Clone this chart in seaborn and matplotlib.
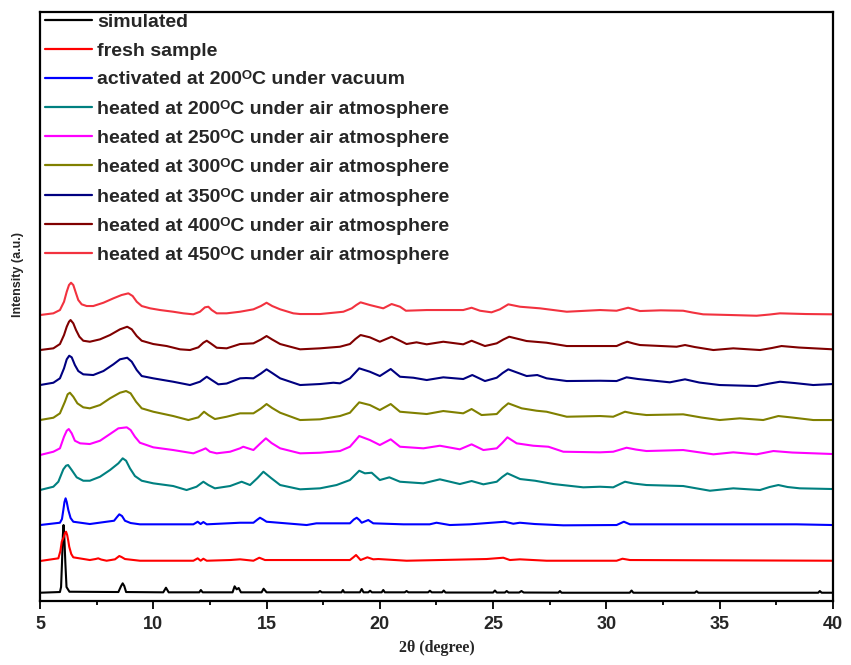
import matplotlib
matplotlib.use("Agg")
import matplotlib.pyplot as plt
from matplotlib.ticker import MultipleLocator
import pandas as pd
import seaborn as sns

# Sample names (legend order) and line colours
samples = [
    "simulated",
    "fresh sample",
    "activated at 200ᴼC under vacuum",
    "heated at 200ᴼC under air atmosphere",
    "heated at 250ᴼC under air atmosphere",
    "heated at 300ᴼC under air atmosphere",
    "heated at 350ᴼC under air atmosphere",
    "heated at 400ᴼC under air atmosphere",
    "heated at 450ᴼC under air atmosphere",
]
colors = ["#000000", "#FF0000", "#0000FF", "#008080", "#FF00FF",
          "#808000", "#000080", "#800000", "#F2323F"]

# Stacked PXRD patterns: (2theta in degrees, intensity in a.u. incl. stacking offset)
simulated = [
    (5.0, 8.3), (5.88, 9.0), (5.93, 14), (5.97, 37.7), (6.01, 66), (6.04, 76),
    (6.07, 66), (6.12, 37.7), (6.17, 14), (6.3, 9.3),
    (8.46, 9.0), (8.58, 15), (8.65, 17.7), (8.72, 15), (8.8, 9.0),
    (10.44, 8.7), (10.56, 13.3), (10.68, 8.7),
    (12.03, 8.7), (12.1, 11), (12.18, 8.7),
    (13.5, 8.7), (13.59, 14.7), (13.68, 11.7), (13.77, 13), (13.87, 8.7),
    (14.78, 8.7), (14.87, 12.3), (15.0, 8.7),
    (17.28, 8.7), (17.36, 10), (17.44, 8.7),
    (18.31, 8.7), (18.37, 11), (18.43, 8.7),
    (19.12, 8.7), (19.2, 12), (19.28, 8.7),
    (19.49, 8.7), (19.57, 10.3), (19.65, 8.7),
    (20.08, 8.7), (20.15, 11), (20.22, 8.7),
    (21.1, 8.7), (21.18, 10), (21.26, 8.7),
    (22.13, 8.7), (22.21, 10.3), (22.29, 8.7),
    (22.75, 8.7), (22.82, 10.5), (22.9, 8.5),
    (25.0, 8.5), (25.08, 10.5), (25.16, 8.5),
    (25.52, 8.5), (25.6, 10), (25.68, 8.5),
    (26.15, 8.5), (26.25, 10), (26.35, 8.5),
    (27.88, 8.4), (27.95, 10), (28.02, 8.3),
    (31.03, 8.3), (31.11, 10.5), (31.19, 8.3),
    (33.9, 8.3), (33.98, 9.8), (34.06, 8.3),
    (39.35, 8.3), (39.42, 10), (39.5, 8.3), (40.0, 8.3),
]
fresh = [
    (5.0, 40), (5.81, 42.7), (5.9, 50), (5.96, 59.3), (6.05, 64), (6.1, 68),
    (6.15, 69.3), (6.2, 66), (6.25, 60), (6.29, 54.3), (6.38, 47), (6.47, 43.7),
    (7.2, 41), (7.45, 42), (7.57, 42.7), (7.7, 41.5), (7.94, 40.3), (8.31, 41.7),
    (8.5, 45), (8.6, 44), (8.75, 42), (9.41, 40.3), (11.77, 40.3), (11.96, 42.7),
    (12.09, 40.3), (12.21, 42.3), (12.36, 40.3), (13.39, 41), (13.83, 41.7),
    (14.42, 40.3), (14.68, 43.3), (14.93, 41), (18.68, 41), (18.82, 43.5),
    (18.95, 46), (19.15, 41), (19.45, 43.7), (19.71, 41.7), (19.93, 42),
    (21.18, 40.3), (24.71, 42), (25.45, 43.3), (25.74, 41), (26.18, 41.7),
    (27.36, 40.3), (30.45, 40.3), (30.71, 42.3), (31.04, 41), (40.0, 40.3),
]
activated = [
    (5.0, 76), (5.88, 78.3), (5.97, 82), (6.03, 91), (6.08, 99), (6.13, 102.7),
    (6.18, 99), (6.25, 91), (6.35, 83), (6.47, 79.3), (7.2, 77), (7.94, 79.3),
    (8.27, 80.3), (8.4, 84), (8.5, 86.7), (8.62, 85), (8.75, 80.3), (9.0, 78),
    (9.41, 76.7), (11.77, 76.7), (11.96, 79.3), (12.09, 77), (12.21, 79),
    (12.36, 76.7), (13.83, 78.3), (14.42, 78.3), (14.6, 81.5), (14.71, 83.3),
    (14.85, 81.5), (15.0, 79.3), (16.77, 76), (17.2, 77.7), (18.68, 77.7),
    (18.85, 81.5), (18.98, 83.3), (19.1, 81), (19.2, 78.3), (19.49, 81),
    (19.71, 77.7), (21.04, 76.7), (22.2, 76.7), (22.5, 78.3), (23.09, 76),
    (23.98, 76.7), (25.52, 79.3), (25.89, 77.3), (26.18, 78.3), (26.84, 77),
    (28.1, 75.7), (30.45, 76), (30.77, 79.3), (31.04, 76.7), (33.98, 76.7),
    (38.39, 76.7), (40.0, 76),
]
heated_200 = [
    (5.0, 111), (5.59, 114.3), (5.81, 119.3), (6.03, 131.7), (6.15, 135.3),
    (6.24, 136), (6.4, 131), (6.62, 123.7), (6.91, 120.3), (7.2, 120.3),
    (7.65, 124.3), (8.09, 131), (8.46, 137.7), (8.65, 142.7), (8.8, 140.3),
    (8.97, 132.7), (9.19, 125), (9.49, 120.3), (10.0, 117.7), (10.88, 115),
    (11.47, 111), (11.91, 114.3), (12.21, 119.3), (12.43, 116), (12.72, 112.7),
    (13.39, 115), (13.9, 119.3), (14.27, 116), (14.6, 123), (14.86, 129.3),
    (15.2, 123), (15.6, 116), (16.48, 111.7), (17.36, 112.7), (18.09, 116),
    (18.68, 121), (18.9, 126), (19.09, 130.3), (19.34, 127.7), (19.64, 128.3),
    (20.0, 121), (20.42, 123.7), (20.89, 119.3), (21.92, 117.7), (22.65, 121.7),
    (23.53, 117), (24.05, 120), (24.57, 116.7), (25.16, 119.3), (25.4, 124),
    (25.63, 127.7), (26.19, 122), (26.85, 120.3), (27.66, 117), (28.98, 113.7),
    (29.72, 114.3), (30.3, 113.7), (30.6, 117), (30.82, 119.3), (31.2, 117.5),
    (31.77, 116), (33.39, 115), (34.57, 110.3), (35.6, 112.7), (36.78, 111),
    (37.2, 114), (37.59, 116), (38.0, 114), (38.54, 112.7), (40.0, 112),
]
heated_250 = [
    (5.0, 146), (5.59, 149.3), (5.88, 152.7), (6.06, 164.3), (6.18, 170.3),
    (6.27, 172), (6.4, 167.7), (6.54, 160.3), (6.77, 157.7), (7.2, 157),
    (7.65, 160.3), (8.09, 167), (8.46, 172.7), (8.83, 173.7), (9.0, 171),
    (9.19, 164.3), (9.41, 158.3), (10.0, 153.7), (10.88, 151), (11.77, 147.7),
    (12.14, 151), (12.31, 152.7), (12.5, 149.3), (12.8, 147.7), (13.39, 149.3),
    (13.83, 152.7), (13.97, 154.3), (14.42, 151), (14.72, 157.5), (14.97, 162.7),
    (15.22, 158), (15.6, 152.7), (16.48, 147.7), (17.36, 148.3), (18.24, 150),
    (18.68, 154.3), (18.9, 160), (19.09, 165), (19.56, 161), (20.0, 156),
    (20.48, 161.7), (20.89, 154.3), (21.92, 152.7), (22.65, 155.3), (23.53, 151.7),
    (24.05, 156.7), (24.57, 151), (25.16, 152.7), (25.4, 158), (25.63, 163.7),
    (26.04, 157.7), (26.77, 155.3), (27.44, 154.3), (28.1, 149.3), (29.72, 148.7),
    (30.3, 149.3), (30.89, 153.3), (31.3, 151.5), (31.77, 150), (33.39, 151),
    (34.72, 146.7), (35.6, 148.7), (36.63, 146.7), (37.37, 150), (38.2, 148.5),
    (40.0, 147),
]
heated_300 = [
    (5.0, 181), (5.59, 183.3), (5.88, 187.7), (6.1, 199.3), (6.22, 206.7),
    (6.32, 208.3), (6.47, 204.3), (6.65, 197.7), (6.91, 193.7), (7.2, 192.7),
    (7.65, 196), (8.09, 202.7), (8.53, 208.3), (8.8, 210), (9.0, 207.7),
    (9.24, 199.3), (9.49, 192.7), (10.0, 189.3), (10.88, 185), (11.55, 181),
    (11.99, 183.7), (12.24, 189.3), (12.43, 186), (12.72, 182), (13.24, 184.3),
    (13.83, 187.7), (14.42, 187.7), (14.75, 192.5), (15.0, 197), (15.25, 193),
    (15.6, 188.3), (16.48, 181), (17.36, 181.7), (18.24, 185), (18.68, 188.3),
    (18.9, 194), (19.09, 198.7), (19.56, 196), (20.0, 191), (20.48, 197),
    (20.89, 189.3), (22.07, 187), (22.8, 190), (23.68, 187.7), (24.05, 192),
    (24.49, 186), (25.16, 187), (25.42, 193), (25.67, 197.7), (26.26, 192.7),
    (26.92, 190.3), (27.36, 189.3), (28.25, 184.3), (29.72, 185), (30.3, 184.3),
    (30.82, 189.3), (31.2, 187.5), (31.77, 186), (33.39, 186.7), (34.2, 183.5),
    (35.0, 181), (35.89, 182.7), (36.92, 181), (37.59, 185), (38.2, 183.5),
    (39.13, 181), (40.0, 181),
]
heated_350 = [
    (5.0, 216), (5.59, 218.3), (5.88, 222.7), (6.06, 232.7), (6.18, 241.7),
    (6.29, 245.3), (6.4, 243.7), (6.54, 236), (6.69, 230), (6.91, 226.7),
    (7.35, 226), (7.8, 230), (8.24, 236.7), (8.53, 241.7), (8.85, 243.3),
    (9.05, 239.3), (9.27, 231), (9.49, 225), (10.0, 222.7), (10.88, 219.3),
    (11.62, 216), (12.06, 219.3), (12.36, 224.3), (12.58, 221), (12.87, 216.7),
    (13.24, 217.5), (13.83, 222.7), (14.1, 223), (14.42, 222.7), (14.75, 227.5),
    (15.0, 231.7), (15.25, 228), (15.6, 222.7), (16.48, 216), (17.36, 217),
    (17.95, 218.3), (18.24, 217.7), (18.68, 222.7), (18.9, 228), (19.09, 232.7),
    (19.56, 229.3), (20.0, 225), (20.48, 232), (20.89, 224.3), (21.48, 223.3),
    (22.07, 221), (22.8, 223.7), (23.68, 222), (24.08, 226), (24.64, 220),
    (25.16, 223.3), (25.42, 228), (25.67, 231.7), (26.48, 225), (26.95, 226),
    (27.36, 222.7), (28.25, 220), (29.72, 220.3), (30.45, 220), (30.89, 223.7),
    (31.4, 222), (32.8, 218.7), (33.47, 221.7), (34.1, 218.5), (35.0, 216),
    (36.63, 215), (37.2, 217.5), (37.66, 219.3), (38.3, 218), (39.13, 216),
    (40.0, 217),
]
heated_400 = [
    (5.0, 251), (5.59, 252.7), (5.88, 257), (6.06, 266), (6.18, 274.3),
    (6.28, 279.3), (6.35, 281), (6.47, 277.7), (6.59, 271), (6.74, 264.3),
    (6.91, 260.3), (7.2, 259.3), (7.65, 261.7), (8.09, 266), (8.53, 271.7),
    (8.85, 274.3), (9.05, 271.7), (9.27, 265), (9.49, 260.3), (10.0, 257),
    (10.59, 255), (11.18, 251.7), (11.62, 251), (11.99, 253.7), (12.21, 258.3),
    (12.36, 260.3), (12.53, 257.7), (12.8, 253.3), (13.24, 252.7), (13.83, 257),
    (14.42, 257.7), (14.75, 261.5), (15.0, 265), (15.25, 261.5), (15.6, 257),
    (16.48, 251.7), (17.36, 252.7), (18.24, 254.3), (18.68, 257), (18.92, 262),
    (19.15, 266), (19.56, 263.7), (20.0, 259.3), (20.52, 264.3), (20.89, 260.3),
    (21.18, 257), (21.62, 258.7), (22.07, 256.7), (22.8, 259.3), (23.68, 256.7),
    (24.05, 260.3), (24.64, 255), (25.16, 257.7), (25.45, 261.5), (25.71, 264.3),
    (26.48, 260), (27.36, 258.3), (28.25, 255), (29.72, 255), (30.45, 255),
    (30.7, 257.5), (30.92, 259.3), (31.2, 257.5), (31.48, 256), (33.1, 254.3),
    (33.47, 256), (33.9, 254), (34.72, 251), (35.6, 252.7), (36.78, 251),
    (37.3, 253), (37.73, 255), (38.5, 253.5), (40.0, 251.7),
]
heated_450 = [
    (5.0, 286), (5.59, 287.7), (5.88, 291), (6.06, 299.3), (6.18, 309.3),
    (6.28, 316), (6.37, 318.3), (6.47, 316), (6.59, 307.7), (6.69, 301),
    (6.84, 296.7), (7.06, 295), (7.35, 295), (7.8, 298.3), (8.24, 302.7),
    (8.6, 306), (8.9, 307.7), (9.09, 305), (9.27, 299.3), (9.49, 295),
    (9.86, 292.7), (10.3, 291), (10.88, 289.3), (11.33, 287.7), (11.77, 286.7),
    (12.06, 289.3), (12.28, 293.7), (12.43, 294.3), (12.58, 291), (12.8, 287.7),
    (13.24, 287.7), (13.83, 289.3), (14.42, 291.7), (14.75, 295), (15.0, 298.3),
    (15.25, 295), (15.6, 291.7), (16.18, 287.7), (16.48, 287), (17.36, 287),
    (17.95, 288.3), (18.39, 289.3), (18.76, 292.7), (18.96, 296), (19.15, 298.7),
    (19.56, 296), (20.15, 292.7), (20.52, 297), (20.89, 294.3), (21.15, 290.3),
    (22.07, 291), (23.1, 291), (23.68, 291), (24.05, 293.3), (24.42, 290.3),
    (24.93, 288.7), (25.3, 291.7), (25.67, 296.7), (26.19, 294.3), (27.07, 292.7),
    (28.25, 289.3), (29.72, 291), (30.45, 290.3), (30.96, 293.3), (31.48, 290),
    (32.4, 290.7), (33.39, 290.3), (33.8, 288.5), (34.27, 286.7), (35.5, 286),
    (36.63, 285.3), (37.2, 286.5), (37.66, 287.7), (38.8, 287), (40.0, 286.7),
]
patterns = [simulated, fresh, activated, heated_200, heated_250,
            heated_300, heated_350, heated_400, heated_450]

x_ticks = [5, 10, 15, 20, 25, 30, 35, 40]

frames = []
for name, pts in zip(samples, patterns):
    df = pd.DataFrame(pts, columns=["two_theta", "intensity"])
    df["sample"] = name
    frames.append(df)
data = pd.concat(frames, ignore_index=True)

sns.set_theme(style="white")
plt.rcParams["font.family"] = ["Liberation Sans", "DejaVu Sans"]

fig = plt.figure(figsize=(8.51, 6.65), dpi=100)
ax = fig.add_axes([0.047, 0.0962, 0.9318, 0.8857])

sns.lineplot(data=data, x="two_theta", y="intensity", hue="sample",
             hue_order=samples, palette=colors, sort=False, estimator=None,
             linewidth=1.5, ax=ax)

ax.set_xlim(5, 40)
ax.set_ylim(0, 589)
ax.set_xticks(x_ticks)
ax.set_xticklabels([str(t) for t in x_ticks])
ax.xaxis.set_minor_locator(MultipleLocator(2.5))
ax.set_yticks([])
ax.tick_params(axis="x", which="major", direction="out", length=6, width=1.3,
               color="black", bottom=True, top=False, pad=5)
ax.tick_params(axis="x", which="minor", direction="out", length=3, width=1.3,
               color="black", bottom=True, top=False)
for lab in ax.get_xticklabels():
    lab.set_fontweight("bold")
    lab.set_fontsize(13)
for sp in ax.spines.values():
    sp.set_visible(True)
    sp.set_color("black")
    sp.set_linewidth(1.6)

ax.set_xlabel("2θ (degree)", fontfamily=["Liberation Serif", "DejaVu Serif"],
              fontweight="bold", fontsize=11.5)
ax.xaxis.set_label_coords(0.5, -0.066)
ax.xaxis.label.set_va("top")
ax.set_ylabel("Intensity (a.u.)", fontweight="bold", fontsize=9)
ax.yaxis.set_label_coords(-0.02, 0.555)

handles, labels = ax.get_legend_handles_labels()
leg = ax.legend(handles, labels, loc="upper left", bbox_to_anchor=(0.005, 1.0),
                frameon=False, borderaxespad=0.0, borderpad=0.05,
                handlelength=2.4, handletextpad=0.28, labelspacing=0.58,
                prop={"weight": "bold", "size": 14})
for line in leg.get_lines():
    line.set_linewidth(1.6)

fig.savefig("out.png", dpi=100)
